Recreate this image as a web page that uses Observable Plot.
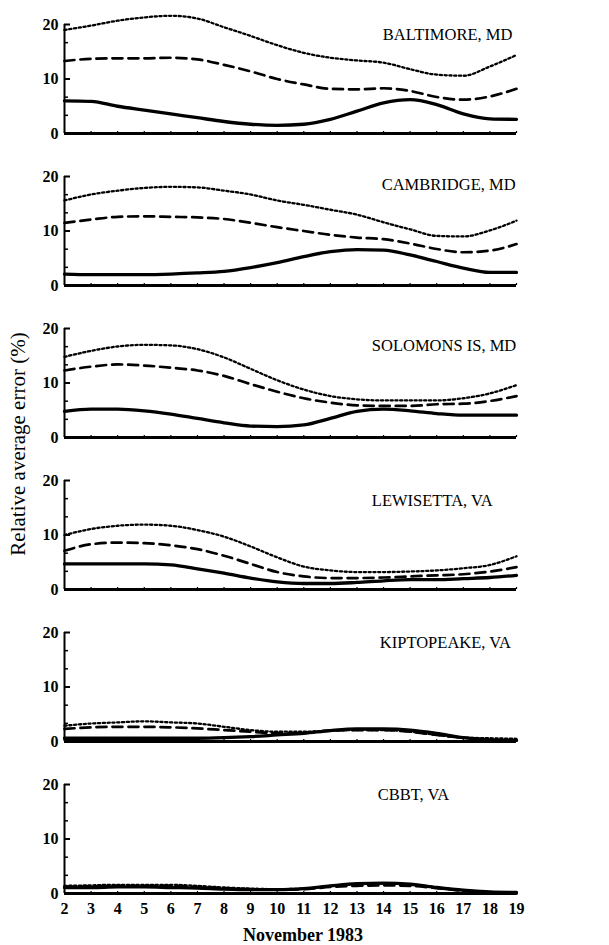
<!DOCTYPE html>
<html>
<head>
<meta charset="utf-8">
<script src="https://cdn.jsdelivr.net/npm/d3@7"></script>
<script src="https://cdn.jsdelivr.net/npm/@observablehq/plot@0.6"></script>
<style>
  html, body { margin: 0; padding: 0; background: #fff; }
  #chart svg { display: block; }
</style>
</head>
<body>
<div id="chart"></div>
<script>
// ---- data ----
const days = [2, 3, 4, 5, 6, 7, 8, 9, 10, 11, 12, 13, 14, 15, 16, 17, 18, 19];
const stations = ["BALTIMORE, MD", "CAMBRIDGE, MD", "SOLOMONS IS, MD", "LEWISETTA, VA", "KIPTOPEAKE, VA", "CBBT, VA"];
const seriesNames = ["dotted", "dashed", "solid"];

const baltimoreDotted = [19.0, 19.8, 20.7, 21.3, 21.6, 21.1, 19.5, 17.9, 16.2, 14.8, 13.9, 13.4, 13.0, 11.8, 10.8, 10.6, 12.3, 14.4];
const baltimoreDashed = [13.3, 13.7, 13.8, 13.8, 13.9, 13.6, 12.6, 11.4, 10.0, 9.0, 8.2, 8.1, 8.3, 7.8, 6.7, 6.2, 6.8, 8.2];
const baltimoreSolid  = [6.0, 5.9, 5.0, 4.3, 3.6, 2.9, 2.2, 1.7, 1.5, 1.7, 2.6, 4.1, 5.6, 6.2, 5.3, 3.6, 2.7, 2.6];

const cambridgeDotted = [15.6, 16.7, 17.4, 17.9, 18.1, 18.0, 17.4, 16.7, 15.6, 14.8, 13.9, 13.0, 11.6, 10.3, 9.1, 9.0, 10.1, 11.9];
const cambridgeDashed = [11.5, 12.1, 12.6, 12.7, 12.6, 12.5, 12.2, 11.5, 10.7, 10.0, 9.3, 8.8, 8.5, 7.7, 6.7, 6.1, 6.4, 7.6];
const cambridgeSolid  = [2.1, 2.0, 2.0, 2.0, 2.1, 2.3, 2.6, 3.3, 4.2, 5.3, 6.2, 6.6, 6.5, 5.6, 4.4, 3.2, 2.4, 2.4];

const solomonsDotted = [14.8, 15.9, 16.7, 17.0, 16.9, 16.2, 14.7, 12.6, 10.5, 8.8, 7.6, 7.0, 6.8, 6.8, 6.8, 7.2, 8.1, 9.6];
const solomonsDashed = [12.3, 13.0, 13.4, 13.2, 12.8, 12.3, 11.3, 9.8, 8.4, 7.2, 6.4, 5.9, 5.8, 5.8, 6.1, 6.2, 6.7, 7.6];
const solomonsSolid  = [4.8, 5.2, 5.2, 4.9, 4.3, 3.5, 2.7, 2.1, 2.0, 2.3, 3.5, 4.8, 5.2, 4.9, 4.4, 4.1, 4.1, 4.1];

const lewisettaDotted = [10.0, 11.1, 11.7, 11.9, 11.7, 10.9, 9.7, 7.9, 5.9, 4.2, 3.5, 3.2, 3.2, 3.3, 3.5, 3.9, 4.5, 6.1];
const lewisettaDashed = [7.1, 8.3, 8.6, 8.5, 8.1, 7.4, 6.2, 4.7, 3.2, 2.4, 2.1, 2.1, 2.2, 2.4, 2.6, 2.8, 3.3, 4.1];
const lewisettaSolid  = [4.7, 4.7, 4.7, 4.7, 4.5, 3.8, 3.0, 2.1, 1.4, 1.1, 1.1, 1.3, 1.6, 1.8, 1.8, 2.0, 2.2, 2.6];

const kiptopeakeDotted = [2.9, 3.3, 3.5, 3.7, 3.5, 3.3, 2.7, 2.1, 1.8, 1.8, 2.0, 2.1, 2.1, 1.8, 1.2, 0.7, 0.6, 0.5];
const kiptopeakeDashed = [2.3, 2.6, 2.7, 2.7, 2.6, 2.4, 2.1, 1.8, 1.5, 1.6, 2.0, 2.1, 2.1, 1.8, 1.2, 0.7, 0.3, 0.2];
const kiptopeakeSolid  = [0.6, 0.6, 0.6, 0.6, 0.6, 0.6, 0.7, 0.9, 1.2, 1.5, 2.0, 2.3, 2.3, 2.1, 1.5, 0.7, 0.3, 0.2];

const cbbtDotted = [1.4, 1.5, 1.6, 1.6, 1.6, 1.4, 1.1, 0.9, 0.8, 0.9, 1.4, 1.7, 1.8, 1.7, 1.1, 0.6, 0.2, 0.0];
const cbbtDashed = [1.2, 1.3, 1.4, 1.4, 1.4, 1.2, 1.0, 0.8, 0.7, 0.8, 1.2, 1.4, 1.5, 1.4, 1.0, 0.5, 0.2, 0.0];
const cbbtSolid  = [1.1, 1.1, 1.2, 1.2, 1.1, 1.0, 0.8, 0.7, 0.7, 0.9, 1.4, 1.8, 1.9, 1.7, 1.1, 0.6, 0.3, 0.2];

const yTicks = [0, 10, 20];
const yMinorTicks = [10 / 3, 20 / 3, 40 / 3, 50 / 3];
const yLabel = "Relative average error (%)";
const xLabel = "November 1983";

// ---- assemble table ----
const seriesByStation = [
  [baltimoreDotted, baltimoreDashed, baltimoreSolid],
  [cambridgeDotted, cambridgeDashed, cambridgeSolid],
  [solomonsDotted, solomonsDashed, solomonsSolid],
  [lewisettaDotted, lewisettaDashed, lewisettaSolid],
  [kiptopeakeDotted, kiptopeakeDashed, kiptopeakeSolid],
  [cbbtDotted, cbbtDashed, cbbtSolid]
];
const rows = [];
stations.forEach((st, i) => {
  seriesNames.forEach((s, k) => {
    days.forEach((d, j) => rows.push({station: st, series: s, day: d, value: seriesByStation[i][k][j]}));
  });
});

// ---- layout (not data) ----
const W = 609, H = 945;
const mL = 64, mR = 93, mT = 21, mB = 49;
const frameW = W - mL - mR;
const labelAt = [[13.97, 18.2], [13.93, 18.5], [13.56, 16.9], [13.56, 16.2], [13.86, 18.2], [13.78, 18.2]];
const FONT = "'Liberation Serif', 'Times New Roman', serif";

const lineOpts = {x: "day", y: "value", fy: "station", z: "station", curve: "monotone-x", stroke: "#000"};

const chart = Plot.plot({
  width: W,
  height: H,
  marginLeft: mL,
  marginRight: mR,
  marginTop: mT,
  marginBottom: mB,
  style: {fontFamily: FONT, background: "#fff", color: "#000"},
  x: {domain: [2, 19], label: null},
  y: {domain: [0, 20], label: null},
  fy: {domain: stations, paddingInner: 0.281, paddingOuter: 0, axis: null, label: null},
  marks: [
    Plot.line(rows.filter(r => r.series === "dotted"), {...lineOpts, strokeWidth: 2.3, strokeDasharray: "2.2,2.6"}),
    Plot.line(rows.filter(r => r.series === "dashed"), {...lineOpts, strokeWidth: 2.7, strokeDasharray: "10,6"}),
    Plot.line(rows.filter(r => r.series === "solid"), {...lineOpts, strokeWidth: 3.3}),
    // frame: y axis line and baseline
    Plot.ruleX([2], {x: d => d, y1: 0, y2: 20, strokeWidth: 2}),
    Plot.ruleY([0], {y: d => d, x1: 2, x2: 19, strokeWidth: 3}),
    // inward ticks
    Plot.ruleY(yTicks, {y: d => d, insetRight: frameW - 6, strokeWidth: 2}),
    Plot.ruleY(yMinorTicks, {y: d => d, insetRight: frameW - 4, strokeWidth: 1.5}),
    Plot.ruleX(days, {x: d => d, insetTop: 107, strokeWidth: 1.2}),
    Plot.axisY({ticks: yTicks, tickSize: 0, tickPadding: 6, fontSize: 16, fontWeight: "bold", label: null}),
    Plot.axisX({ticks: days, tickSize: 0, tickPadding: 9, fontSize: 16, fontWeight: "bold", tickFormat: d => String(d), label: null}),
    Plot.text(stations, {
      fy: d => d,
      x: (d, i) => labelAt[i][0],
      y: (d, i) => labelAt[i][1],
      text: d => d,
      textAnchor: "start",
      fontSize: 16.5,
      fill: "#000"
    })
  ]
});

const svg = d3.select(chart);
svg.append("text")
  .attr("transform", `translate(20, 444) rotate(-90)`)
  .attr("text-anchor", "middle")
  .attr("dominant-baseline", "middle")
  .attr("font-size", 21)
  .attr("font-family", FONT)
  .attr("fill", "#000")
  .text(yLabel);
svg.append("text")
  .attr("x", 303)
  .attr("y", 937)
  .attr("text-anchor", "middle")
  .attr("dominant-baseline", "middle")
  .attr("font-size", 18)
  .attr("font-family", FONT)
  .attr("font-weight", "bold")
  .attr("fill", "#000")
  .text(xLabel);

document.getElementById("chart").appendChild(chart);
</script>
</body>
</html>
